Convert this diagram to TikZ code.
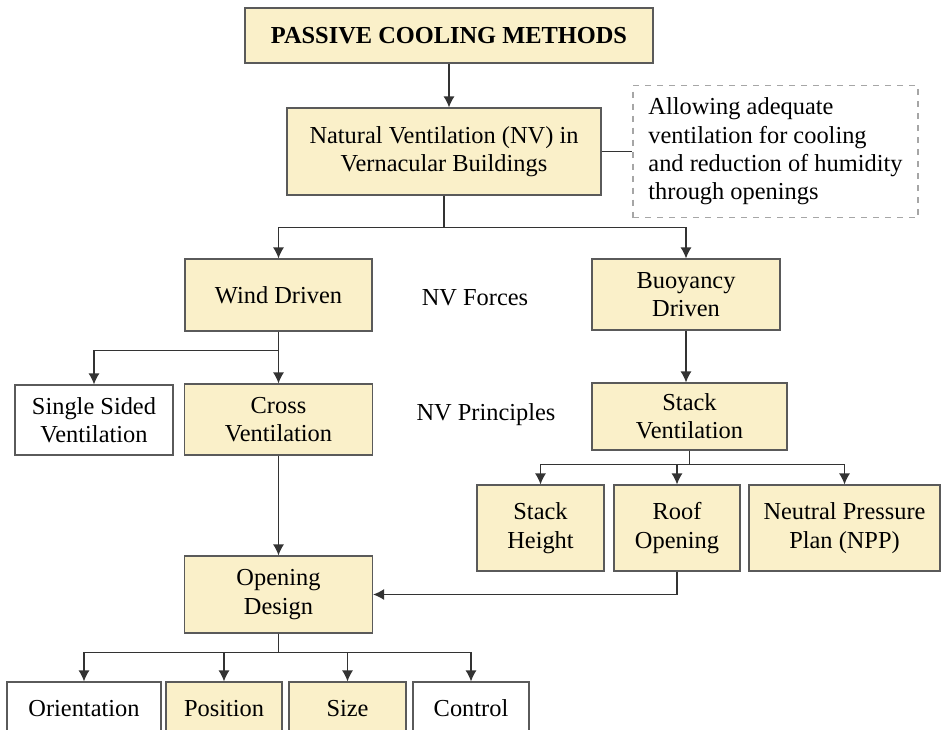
\documentclass[tikz,border=0pt]{standalone}
\usepackage{fontspec}
\setmainfont{Liberation Serif}
\usepackage{tikz}
\usetikzlibrary{arrows.meta}
\definecolor{boxfill}{RGB}{250,240,201}
\definecolor{boxline}{RGB}{90,90,90}
\tikzset{
	fillstyle/.style={rectangle,draw=boxline,fill=boxfill,line width=0.6pt,align=center,inner sep=1pt},
	plainstyle/.style={rectangle,draw=boxline,fill=white,line width=0.6pt,align=center,inner sep=1pt},
	notestyle/.style={rectangle,draw=gray!70,dashed,line width=0.6pt,align=left,inner sep=1pt},
	arrowstyle/.style={draw=black!80,line width=0.6pt,-{Latex[length=5.5pt,width=5.5pt]}},
	linkstyle/.style={draw=black!80,line width=0.6pt}
}

\begin{document}
\begin{tikzpicture}[x=0.5pt,y=-0.5pt,font=\fontsize{12.2}{14.2}\selectfont]
	\useasboundingbox (0,0) rectangle (941,729);
	\clip (0,0) rectangle (941,729);
	\node[fillstyle,minimum width=204pt,minimum height=27.5pt,font=\fontsize{12.2}{14.2}\selectfont\bfseries] (pcm) at (449,35.5) {PASSIVE COOLING METHODS};
	\node[fillstyle,minimum width=157pt,minimum height=43.5pt] (nv) at (444,151.5) {Natural Ventilation (NV) in\\Vernacular Buildings};
	\node[notestyle,minimum width=142.5pt,minimum height=66pt] (note) at (775.5,151.5) {Allowing adequate\\ventilation for cooling\\and reduction of humidity\\through openings};
	\node[fillstyle,minimum width=93.5pt,minimum height=36pt] (wind) at (278.5,295) {Wind Driven};
	\node[fillstyle,minimum width=94pt,minimum height=35.5pt] (buoy) at (686,294.5) {Buoyancy\\Driven};
	\node[plainstyle,minimum width=79pt,minimum height=35pt] (single) at (94,420) {Single Sided\\Ventilation};
	\node[fillstyle,minimum width=94pt,minimum height=35.5pt] (cross) at (278.5,419.5) {Cross\\Ventilation};
	\node[fillstyle,minimum width=97.5pt,minimum height=33.5pt] (stack) at (689.5,416.5) {Stack\\Ventilation};
	\node[fillstyle,minimum width=63.5pt,minimum height=43pt] (height) at (540.5,528) {Stack\\Height};
	\node[fillstyle,minimum width=63pt,minimum height=43pt] (roof) at (677,528) {Roof\\Opening};
	\node[fillstyle,minimum width=95.5pt,minimum height=43pt] (npp) at (844.5,528) {Neutral Pressure\\Plan (NPP)};
	\node[fillstyle,minimum width=94pt,minimum height=38.5pt] (opening) at (278.5,594.5) {Opening\\Design};
	\node[plainstyle,minimum width=77pt,minimum height=31.5pt] (orient) at (84,713.5) {\raisebox{5pt}{Orientation}};
	\node[fillstyle,minimum width=58pt,minimum height=31.5pt] (position) at (224,713.5) {\raisebox{5pt}{Position}};
	\node[fillstyle,minimum width=58.5pt,minimum height=31.5pt] (size) at (347.5,713.5) {\raisebox{5pt}{Size}};
	\node[plainstyle,minimum width=58pt,minimum height=31.5pt] (control) at (471,713.5) {\raisebox{5pt}{Control}};
	\node (forces) at (475,298) {NV Forces};
	\node (principles) at (486,415) {NV Principles};
	\draw[arrowstyle] (pcm) -- (pcm.south |- nv.north);
	\draw[linkstyle] (nv.east) -- (note.west);
	\draw[arrowstyle] (nv.south) -- ++(0,32) -| (wind.north);
	\draw[arrowstyle] (nv.south) -- ++(0,32) -| (buoy.north);
	\draw[arrowstyle] (wind.south) -- ++(0,19) -| (single.north);
	\draw[arrowstyle] (wind.south) -- (cross.north);
	\draw[arrowstyle] (buoy.south) -- (buoy.south |- stack.north);
	\draw[arrowstyle] (stack.south) -- ++(0,14) -| (height.north);
	\draw[arrowstyle] (stack.south) -- ++(0,14) -| (roof.north);
	\draw[arrowstyle] (stack.south) -- ++(0,14) -| (npp.north);
	\draw[arrowstyle] (cross.south) -- (opening.north);
	\draw[arrowstyle] (roof.south) |- (opening.east);
	\draw[arrowstyle] (opening.south) -- ++(0,19) -| (orient.north);
	\draw[arrowstyle] (opening.south) -- ++(0,19) -| (position.north);
	\draw[arrowstyle] (opening.south) -- ++(0,19) -| (size.north);
	\draw[arrowstyle] (opening.south) -- ++(0,19) -| (control.north);
\end{tikzpicture}
\end{document}
